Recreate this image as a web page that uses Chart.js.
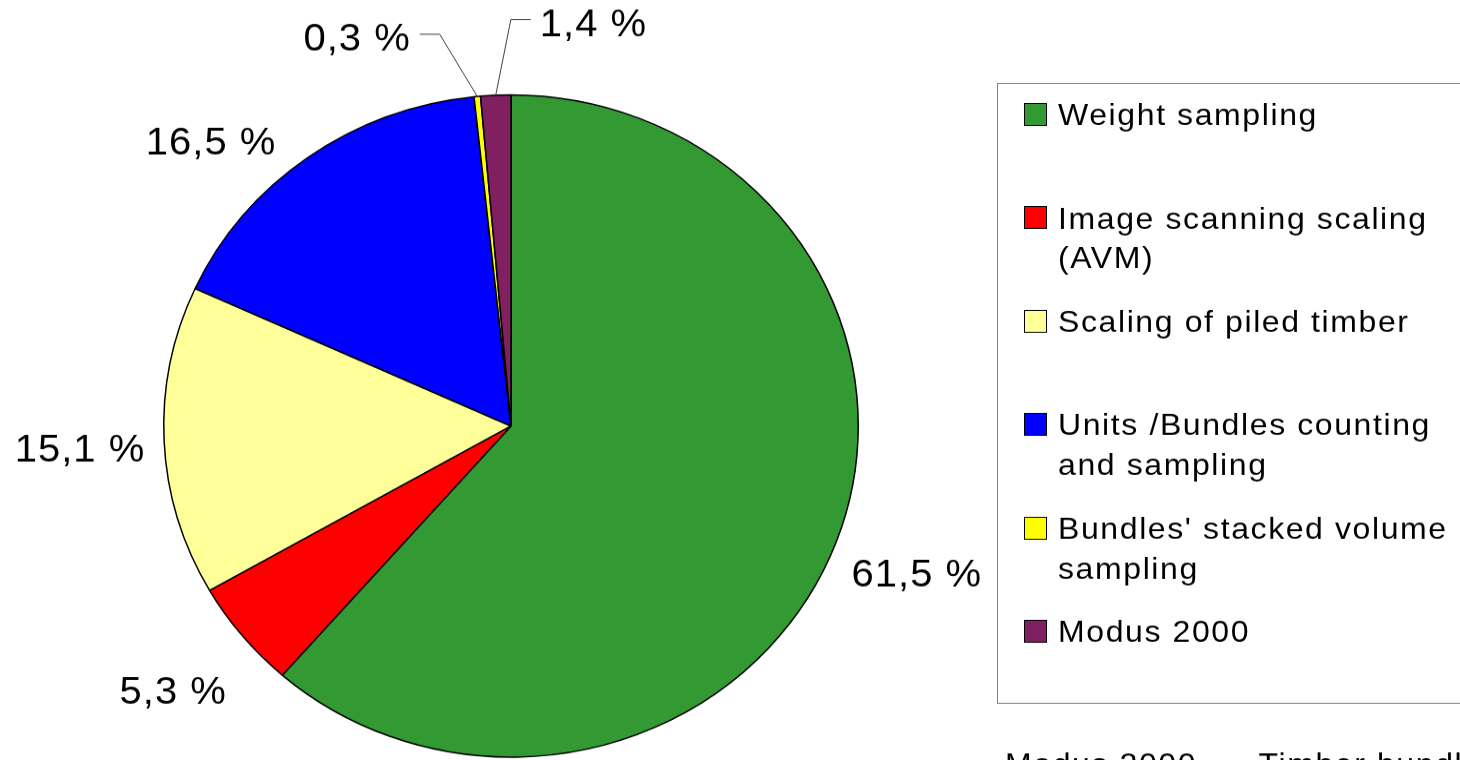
<!DOCTYPE html>
<html>
<head>
<meta charset="utf-8">
<title>Scaling methods</title>
<script src="https://cdn.jsdelivr.net/npm/chart.js@4/dist/chart.umd.min.js"></script>
<style>
  html, body { margin: 0; padding: 0; background: #fff; overflow: hidden; }
  #chart { display: block; }
</style>
</head>
<body>
<canvas id="chart" width="1460" height="797" style="width:1460px;height:760px"></canvas>
<script>
const labels = [
    'Weight sampling',
    ['Image scanning scaling', '(AVM)'],
    'Scaling of piled timber',
    ['Units /Bundles counting', 'and sampling'],
    ["Bundles' stacked volume", 'sampling'],
    'Modus 2000'
];
const shares = [61.5, 5.3, 15.1, 16.5, 0.3, 1.4];
const valueLabels = ['61,5 %', '5,3 %', '15,1 %', '16,5 %', '0,3 %', '1,4 %'];
const colors = ['#339933', '#ff0000', '#ffff99', '#0000ff', '#ffff00', '#802060'];
const footnote = 'Modus 2000  –  Timber bundles';

// canvas is drawn taller than it is shown, so the pie comes out slightly flattened like the original
const SY = 797 / 760;
const FONT = "'Liberation Sans', Arial, sans-serif";

// small moves for the value labels, same order as shares
const labelNudge = [[1, 20], [-12, 35], [1, 6], [-47, 11], [-113, -28], [101, -42]];

const sliceLabels = {
    id: 'sliceLabels',
    afterDatasetsDraw(chart) {
        const ctx = chart.ctx;
        const meta = chart.getDatasetMeta(0);
        const values = chart.data.datasets[0].data;
        const total = values.reduce((a, b) => a + b, 0);
        const size = 40;
        const capH = size * 0.716;

        ctx.save();
        ctx.font = `${size}px ${FONT}`;
        ctx.letterSpacing = '1px';
        ctx.fillStyle = '#000';
        ctx.textAlign = 'center';
        ctx.textBaseline = 'alphabetic';

        meta.data.forEach((arc, i) => {
            const {x, y, startAngle, endAngle, outerRadius} =
                arc.getProps(['x', 'y', 'startAngle', 'endAngle', 'outerRadius'], true);
            const mid = (startAngle + endAngle) / 2;
            const dx = Math.cos(mid);
            const dy = Math.sin(mid);
            const text = valueLabels[i];
            const w = ctx.measureText(text).width;

            const ax = x + dx * (outerRadius + 20);
            const ay = y + dy * (outerRadius + 20);
            const cx = ax + dx * w / 2 + labelNudge[i][0];
            const cy = ay + dy * capH / 2 + labelNudge[i][1];
            ctx.fillText(text, cx, cy + capH / 2);

            if (values[i] / total < 0.02) {
                // leader line from the thin slice to its moved label
                const ex = x + dx * outerRadius;
                const ey = y + dy * outerRadius;
                const side = cx < ex ? 1 : -1;
                const ly = cy - 3;
                ctx.beginPath();
                ctx.moveTo(ex, ey);
                ctx.lineTo(cx + side * (w / 2 + 29), ly);
                ctx.lineTo(cx + side * (w / 2 + 9), ly);
                ctx.strokeStyle = '#404040';
                ctx.lineWidth = 1;
                ctx.stroke();
            }
        });
        ctx.restore();
    }
};

const sideLegend = {
    id: 'sideLegend',
    afterDraw(chart) {
        const ctx = chart.ctx;
        const names = chart.data.labels;
        const fills = chart.data.datasets[0].backgroundColor;

        ctx.save();
        ctx.strokeStyle = '#808080';
        ctx.lineWidth = 1;
        ctx.strokeRect(997.5, Math.round(83 * SY) + 0.5, 520, Math.round((703 - 83) * SY));

        ctx.font = `32px ${FONT}`;
        ctx.letterSpacing = '1.6px';
        ctx.textAlign = 'left';
        ctx.textBaseline = 'alphabetic';

        names.forEach((name, i) => {
            const lines = Array.isArray(name) ? name : [name];
            const base = 125 + i * 103.4;
            const top = Math.round((base - 22) * SY);
            const h = Math.round(22 * SY);
            ctx.fillStyle = fills[i];
            ctx.fillRect(1024, top, 22, h);
            ctx.strokeStyle = '#000';
            ctx.strokeRect(1024.5, top + 0.5, 22, h);
            ctx.fillStyle = '#000';
            lines.forEach((t, j) => ctx.fillText(t, 1058, (base + j * 40) * SY));
        });

        ctx.fillText(footnote, 1005, 774 * SY);
        ctx.restore();
    }
};

new Chart(document.querySelector('#chart').getContext('2d'), {
    type: 'pie',
    data: {
        labels: labels,
        datasets: [{
            data: shares,
            backgroundColor: colors,
            borderColor: '#000',
            borderWidth: 1.5,
            hoverOffset: 0
        }]
    },
    options: {
        responsive: false,
        animation: false,
        events: [],
        layout: {
            padding: {left: 163, right: 601, top: 98.7, bottom: 2.3}
        },
        plugins: {
            legend: {display: false},
            tooltip: {enabled: false}
        }
    },
    plugins: [sliceLabels, sideLegend]
});
</script>
</body>
</html>
